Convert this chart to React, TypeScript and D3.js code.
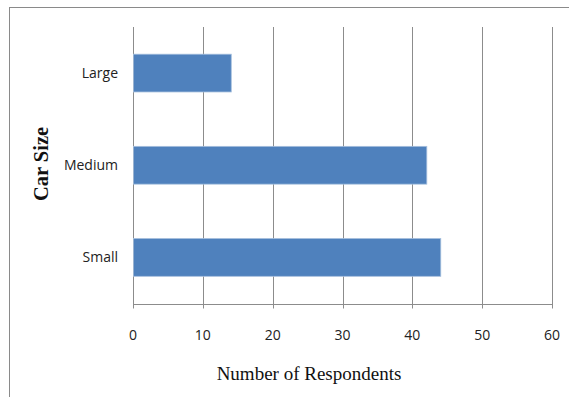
import React from "react";
import * as d3 from "d3";

const categories = ["Large", "Medium", "Small"];
const values = [14, 42, 44];
const xTicks = [0, 10, 20, 30, 40, 50, 60];
const xTitle = "Number of Respondents";
const yTitle = "Car Size";

export default function App() {
  const W = 569, H = 397;
  const left = 133, right = 552, top = 27, bottom = 303.5;
  const x = d3.scaleLinear().domain([0, 60]).range([left, right]);
  const y = d3.scaleBand().domain(categories).range([top, bottom]).paddingInner(0.59).paddingOuter(0.295);
  const labelFont = "Open Sans, Noto Sans, sans-serif";
  return (
    <svg width={W} height={H} style={{ position: "absolute", left: 0, top: 0 }}>
      <rect x={0} y={0} width={W} height={H} fill="#fff" />
      <rect x={9.5} y={7.5} width={700} height={500} fill="none" stroke="#8a8a8a" strokeWidth={1} />
      {xTicks.map((t) => (
        <line key={t} x1={Math.round(x(t)) + 0.5} x2={Math.round(x(t)) + 0.5} y1={top} y2={bottom + 5} stroke="#8c8c8c" strokeWidth={1} />
      ))}
      <line x1={left} x2={right + 0.5} y1={Math.round(bottom) + 0.5} y2={Math.round(bottom) + 0.5} stroke="#8c8c8c" strokeWidth={1} />
      {categories.map((c, i) => (
        <rect key={c} x={x(0) + 0.5} y={y(c)!} width={x(values[i]) - x(0)} height={y.bandwidth()} fill="#4f81bd" stroke="#a6bfdd" strokeWidth={0.8} />
      ))}
      {categories.map((c) => (
        <text key={c} x={118} y={y(c)! + y.bandwidth() / 2} dy="0.35em" textAnchor="end" fontFamily={labelFont} fontSize={14} fill="#222">{c}</text>
      ))}
      {xTicks.map((t) => (
        <text key={t} x={x(t)} y={335} dy="0.35em" textAnchor="middle" fontFamily={labelFont} fontSize={14} fill="#222">{t}</text>
      ))}
      <text x={309} y={373} dy="0.35em" textAnchor="middle" fontFamily="Liberation Serif, serif" fontSize={19} fill="#111">{xTitle}</text>
      <text transform="translate(41,164) rotate(-90)" dy="0.35em" textAnchor="middle" fontFamily="Liberation Serif, serif" fontWeight="bold" fontSize={20.5} fill="#111">{yTitle}</text>
    </svg>
  );
}
